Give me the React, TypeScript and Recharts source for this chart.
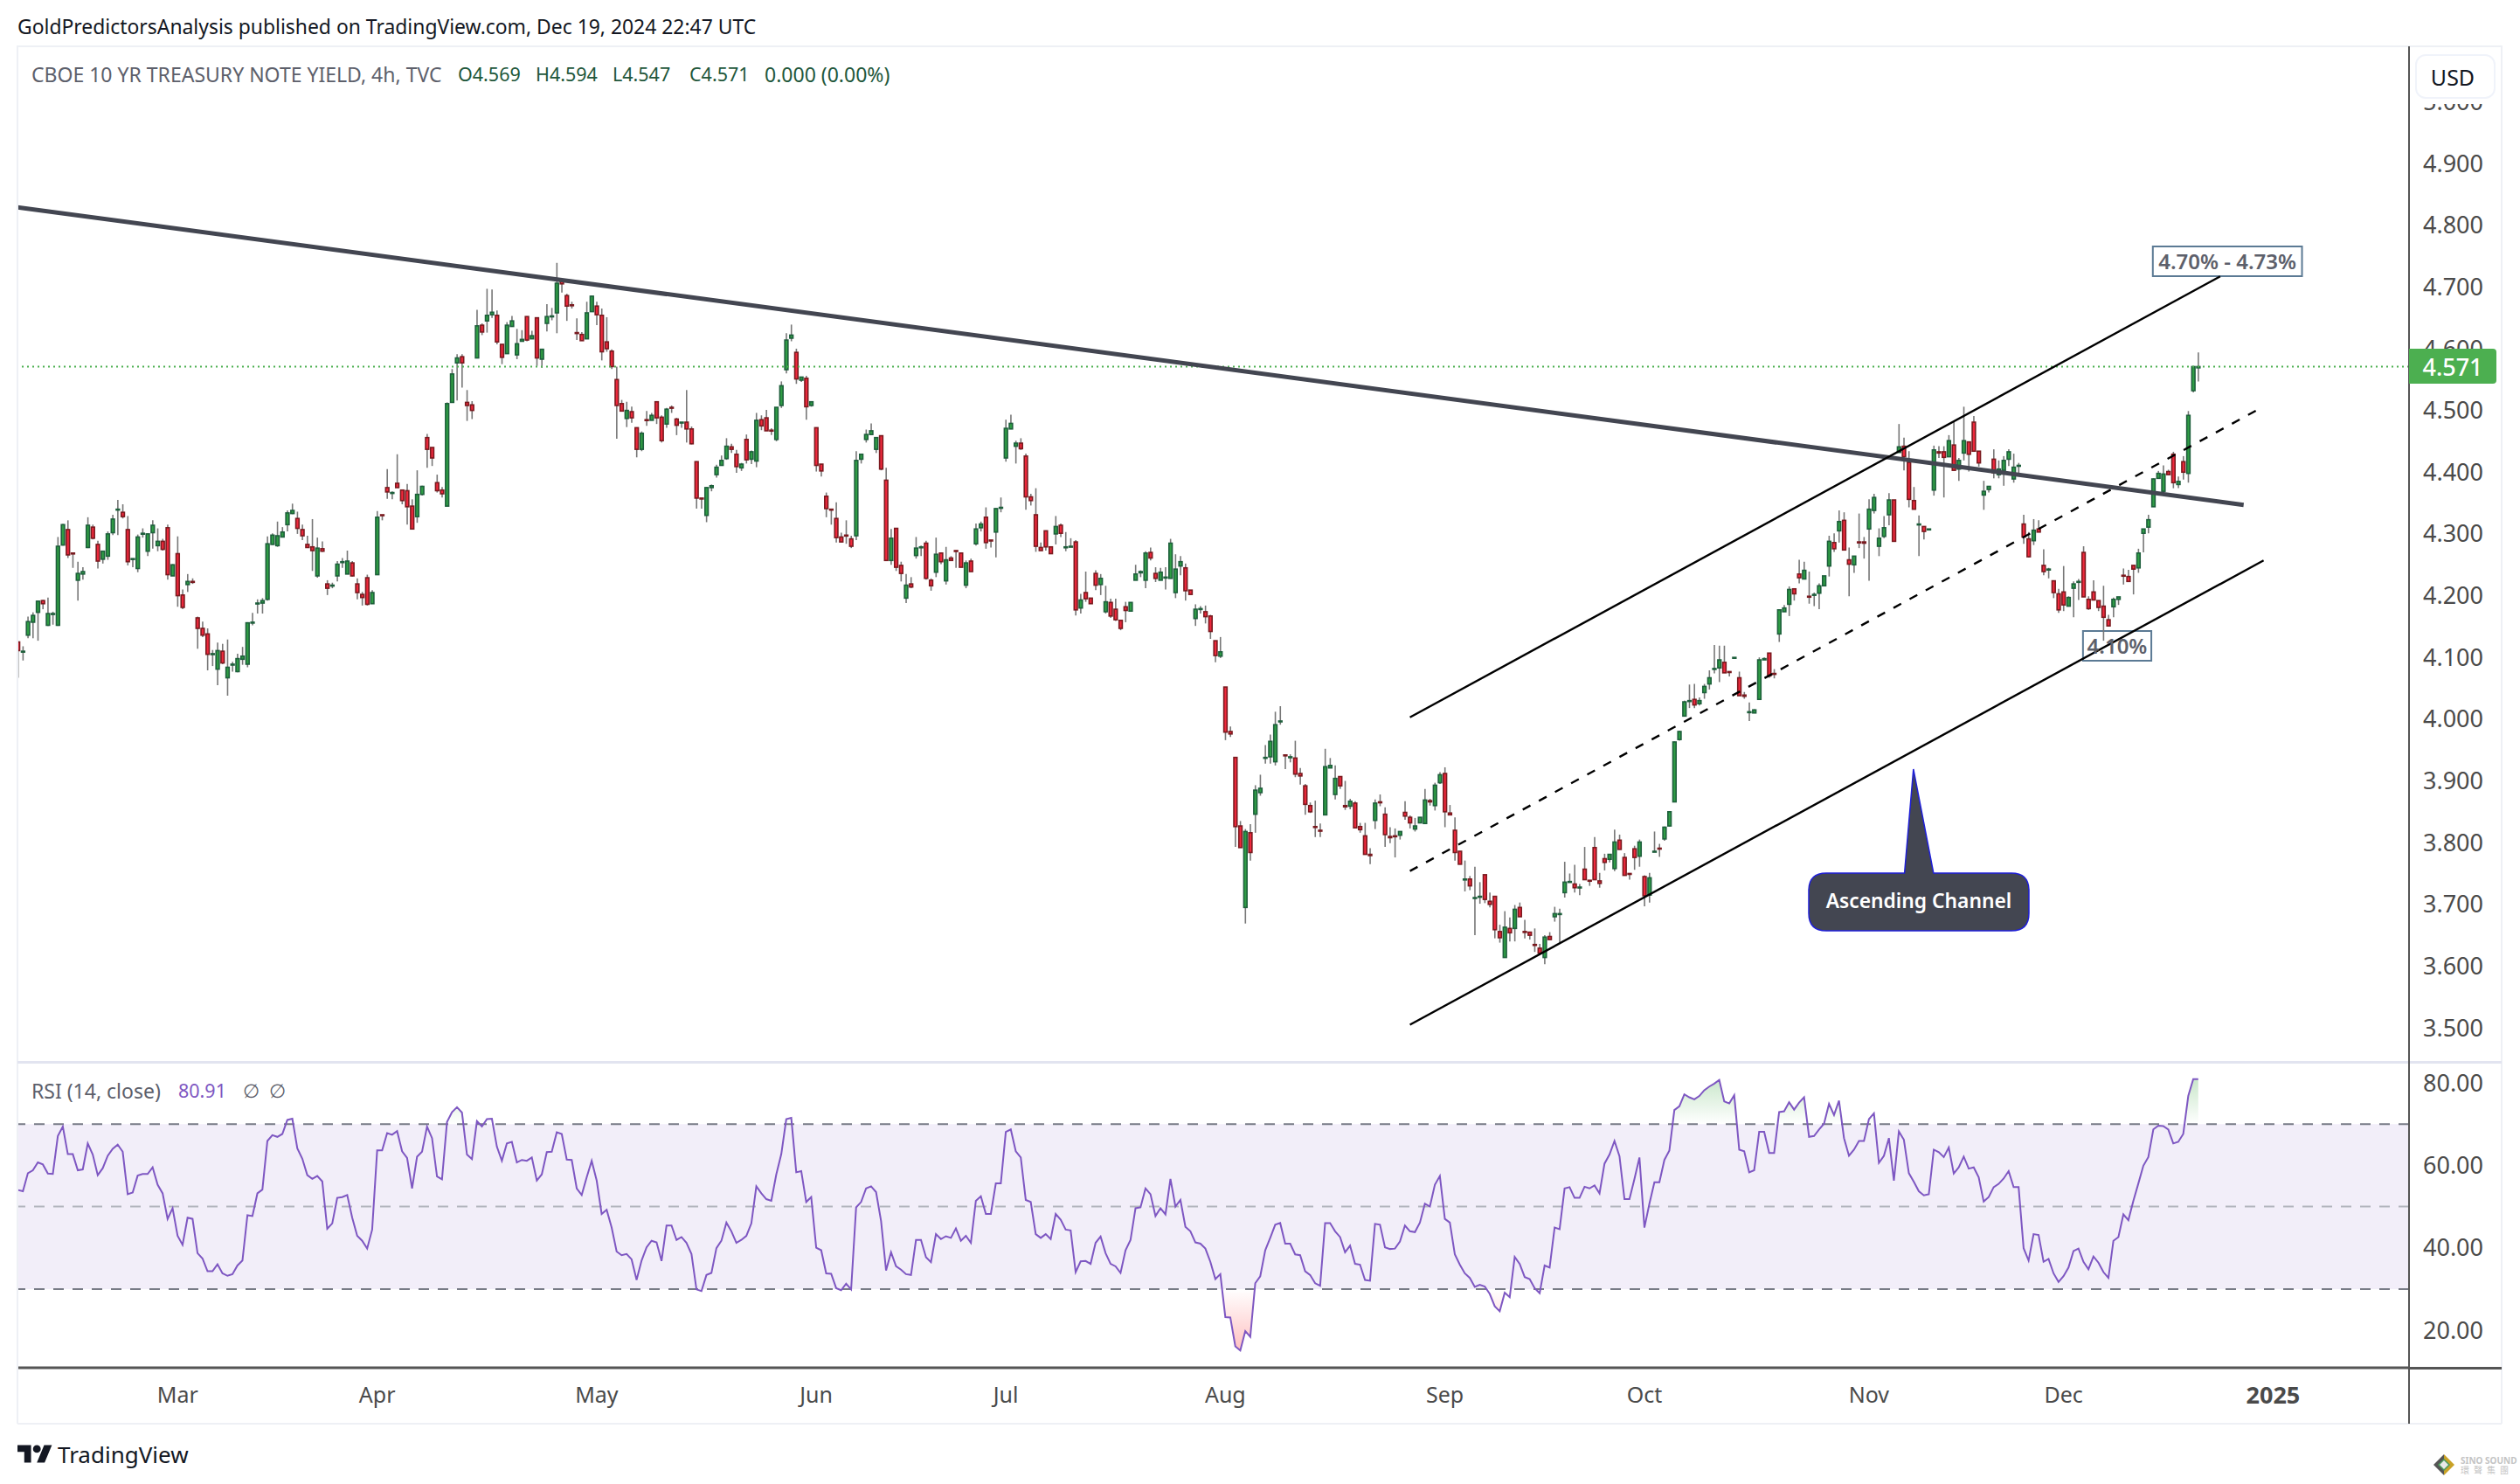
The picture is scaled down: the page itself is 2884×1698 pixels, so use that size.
import React from "react";
import { ComposedChart, Bar, Line, Area, XAxis, YAxis, ReferenceLine, ReferenceArea } from "recharts";

type Row = [number, number, number, number]; // open, close, high, low

const candlesFeb: Row[] = [
[4.125,4.111,4.126,4.067],[4.109,4.110,4.118,4.095],[4.136,4.158,4.166,4.131],[4.157,4.168,4.173,4.131],[4.173,4.191,4.192,4.127],[4.192,4.187,4.193,4.178],[4.152,4.171,4.197,4.151],[4.170,4.171,4.174,4.153],
[4.152,4.280,4.295,4.151],[4.282,4.315,4.316,4.281],[4.307,4.266,4.322,4.261],[4.269,4.268,4.269,4.245],[4.225,4.236,4.255,4.192],[4.235,4.239,4.246,4.226],[4.278,4.314,4.327,4.277],[4.311,4.293,4.315,4.291],
[4.283,4.256,4.289,4.244],[4.259,4.272,4.273,4.252],[4.264,4.300,4.304,4.258],[4.302,4.324,4.331,4.298],[4.339,4.340,4.355,4.298],[4.335,4.328,4.348,4.325],[4.307,4.255,4.329,4.249],[4.259,4.260,4.260,4.246],
[4.244,4.295,4.299,4.238],[4.300,4.301,4.309,4.294],[4.272,4.300,4.301,4.264],[4.302,4.314,4.322,4.276],[4.281,4.288,4.309,4.272],[4.288,4.275,4.292,4.273],[4.310,4.234,4.315,4.226],[4.232,4.250,4.251,4.232]];
const candlesMar: Row[] = [
[4.268,4.200,4.296,4.182],[4.201,4.181,4.210,4.178],[4.218,4.223,4.235,4.206],[4.223,4.222,4.228,4.219],[4.164,4.147,4.166,4.114],[4.147,4.136,4.158,4.133],[4.138,4.105,4.147,4.079],[4.105,4.106,4.112,4.086],
[4.081,4.111,4.124,4.055],[4.110,4.091,4.122,4.089],[4.067,4.084,4.129,4.038],[4.088,4.089,4.093,4.077],[4.077,4.098,4.106,4.076],[4.097,4.102,4.117,4.088],[4.089,4.156,4.157,4.084],[4.156,4.157,4.172,4.152],
[4.187,4.188,4.194,4.171],[4.188,4.192,4.196,4.171],[4.194,4.284,4.296,4.192],[4.283,4.298,4.301,4.282],[4.281,4.297,4.320,4.279],[4.295,4.303,4.311,4.295],[4.315,4.334,4.338,4.304],[4.333,4.338,4.349,4.332],
[4.325,4.309,4.336,4.300],[4.307,4.297,4.315,4.290],[4.283,4.278,4.297,4.278],[4.279,4.273,4.324,4.240],[4.232,4.277,4.294,4.229],[4.276,4.272,4.288,4.271],[4.219,4.212,4.225,4.201],[4.216,4.217,4.221,4.212],
[4.232,4.251,4.256,4.223],[4.254,4.255,4.261,4.245],[4.235,4.256,4.273,4.235],[4.253,4.232,4.256,4.231],[4.219,4.205,4.228,4.194],[4.202,4.197,4.206,4.184],[4.229,4.186,4.234,4.184],[4.187,4.205,4.209,4.187]];
const candlesApr: Row[] = [
[4.234,4.327,4.337,4.234],[4.331,4.330,4.331,4.322],[4.375,4.368,4.405,4.357],[4.366,4.367,4.369,4.356],[4.382,4.375,4.429,4.375],[4.371,4.354,4.372,4.348],[4.370,4.344,4.381,4.315],[4.345,4.308,4.356,4.308],
[4.328,4.364,4.403,4.318],[4.364,4.377,4.378,4.362],[4.456,4.437,4.462,4.407],[4.440,4.423,4.440,4.410],[4.383,4.370,4.396,4.367],[4.371,4.365,4.376,4.359],[4.345,4.511,4.513,4.345],[4.513,4.559,4.567,4.513],
[4.577,4.585,4.591,4.516],[4.587,4.577,4.591,4.537],[4.513,4.508,4.533,4.483],[4.509,4.500,4.515,4.486],[4.585,4.637,4.663,4.585],[4.638,4.627,4.641,4.622],[4.645,4.654,4.697,4.626],[4.655,4.659,4.696,4.650],
[4.654,4.611,4.662,4.607],[4.607,4.586,4.607,4.575],[4.592,4.638,4.643,4.592],[4.636,4.645,4.653,4.636],[4.590,4.608,4.632,4.583],[4.612,4.615,4.630,4.612],[4.652,4.614,4.652,4.612],[4.616,4.621,4.629,4.616],
[4.650,4.585,4.650,4.572],[4.583,4.599,4.600,4.569],[4.641,4.652,4.672,4.628],[4.652,4.653,4.666,4.646],[4.658,4.706,4.739,4.625],[4.709,4.705,4.709,4.691],[4.686,4.669,4.689,4.645],[4.671,4.670,4.676,4.665],
[4.626,4.625,4.649,4.614],[4.623,4.613,4.627,4.613],[4.616,4.658,4.676,4.616],[4.660,4.685,4.686,4.660]];
const candlesMay: Row[] = [
[4.669,4.655,4.676,4.638],[4.654,4.595,4.665,4.581],[4.611,4.600,4.651,4.595],[4.596,4.571,4.599,4.567],[4.550,4.508,4.571,4.454],[4.511,4.499,4.517,4.499],[4.487,4.500,4.514,4.473],[4.498,4.488,4.506,4.480],
[4.472,4.437,4.472,4.424],[4.437,4.463,4.466,4.434],[4.485,4.484,4.499,4.475],[4.484,4.492,4.496,4.484],[4.514,4.488,4.514,4.478],[4.489,4.451,4.492,4.448],[4.478,4.502,4.504,4.472],[4.505,4.504,4.508,4.496],
[4.486,4.476,4.488,4.460],[4.480,4.481,4.481,4.472],[4.481,4.470,4.533,4.448],[4.470,4.446,4.474,4.445],[4.417,4.358,4.417,4.341],[4.358,4.357,4.358,4.341],[4.330,4.375,4.376,4.319],[4.375,4.378,4.380,4.369],
[4.396,4.408,4.412,4.391],[4.411,4.419,4.427,4.411],[4.422,4.442,4.455,4.420],[4.441,4.437,4.446,4.431],[4.429,4.409,4.436,4.399],[4.407,4.413,4.415,4.402],[4.453,4.420,4.461,4.414],[4.421,4.433,4.435,4.413],
[4.418,4.484,4.496,4.408],[4.485,4.475,4.492,4.468],[4.488,4.467,4.501,4.467],[4.468,4.467,4.471,4.460],[4.453,4.505,4.505,4.450],[4.508,4.540,4.547,4.504],[4.566,4.614,4.625,4.560],[4.617,4.622,4.639,4.612],
[4.594,4.551,4.600,4.543],[4.549,4.554,4.554,4.546],[4.552,4.506,4.556,4.485],[4.508,4.514,4.514,4.506]];
const candlesJun: Row[] = [
[4.472,4.411,4.472,4.401],[4.413,4.402,4.413,4.393],[4.361,4.341,4.367,4.327],[4.340,4.339,4.340,4.315],[4.325,4.294,4.351,4.286],[4.295,4.287,4.302,4.287],[4.298,4.297,4.322,4.284],[4.292,4.280,4.297,4.277],
[4.297,4.419,4.434,4.290],[4.421,4.429,4.429,4.414],[4.453,4.461,4.469,4.448],[4.461,4.467,4.479,4.461],[4.437,4.456,4.456,4.431],[4.459,4.405,4.459,4.403],[4.387,4.257,4.407,4.257],[4.257,4.293,4.308,4.250],
[4.309,4.246,4.309,4.240],[4.249,4.236,4.255,4.223],[4.196,4.217,4.235,4.188],[4.219,4.214,4.230,4.212],[4.265,4.277,4.295,4.260],[4.278,4.279,4.281,4.264],[4.285,4.228,4.289,4.226],[4.225,4.216,4.228,4.208],
[4.238,4.267,4.294,4.230],[4.269,4.255,4.269,4.251],[4.224,4.258,4.279,4.218],[4.261,4.257,4.264,4.257],[4.273,4.272,4.273,4.245],[4.269,4.246,4.269,4.246],[4.217,4.253,4.257,4.212],[4.256,4.239,4.260,4.239],
[4.284,4.308,4.317,4.281],[4.310,4.316,4.320,4.304],[4.327,4.286,4.343,4.276],[4.290,4.289,4.290,4.278],[4.303,4.341,4.342,4.262],[4.342,4.343,4.359,4.335]];
const candlesJul: Row[] = [
[4.423,4.471,4.485,4.417],[4.470,4.479,4.493,4.470],[4.442,4.447,4.451,4.414],[4.447,4.438,4.455,4.436],[4.426,4.360,4.430,4.339],[4.360,4.354,4.365,4.346],[4.331,4.280,4.374,4.271],[4.278,4.273,4.286,4.273],
[4.305,4.279,4.305,4.273],[4.279,4.268,4.279,4.268],[4.300,4.312,4.329,4.283],[4.314,4.301,4.317,4.295],[4.278,4.279,4.303,4.272],[4.279,4.280,4.293,4.279],[4.287,4.177,4.290,4.168],[4.180,4.193,4.203,4.171],
[4.205,4.195,4.239,4.190],[4.196,4.187,4.196,4.187],[4.236,4.217,4.241,4.209],[4.218,4.228,4.235,4.201],[4.174,4.190,4.216,4.171],[4.189,4.167,4.195,4.164],[4.178,4.161,4.195,4.159],[4.160,4.147,4.160,4.144],
[4.182,4.176,4.190,4.157],[4.175,4.189,4.189,4.175],[4.225,4.235,4.250,4.225],[4.237,4.239,4.241,4.230],[4.225,4.269,4.272,4.212],[4.270,4.261,4.278,4.257],[4.236,4.228,4.246,4.222],[4.225,4.238,4.245,4.225],
[4.229,4.230,4.246,4.210],[4.228,4.285,4.292,4.228],[4.205,4.243,4.267,4.196],[4.248,4.255,4.264,4.233],[4.245,4.208,4.252,4.192],[4.209,4.202,4.209,4.202],[4.163,4.178,4.186,4.151],[4.178,4.179,4.183,4.171],
[4.174,4.166,4.184,4.155],[4.167,4.142,4.169,4.130],[4.127,4.103,4.127,4.092],[4.102,4.109,4.133,4.099]];
const candlesAug: Row[] = [
[4.052,3.979,4.052,3.966],[3.980,3.976,3.988,3.971],[3.938,3.826,3.938,3.793],[3.827,3.792,3.835,3.792],[3.695,3.818,3.822,3.669],[3.816,3.784,3.830,3.771],[3.846,3.885,3.893,3.816],[3.881,3.888,3.910,3.876],
[3.937,3.938,3.958,3.928],[3.939,3.964,3.975,3.928],[3.931,3.991,4.012,3.925],[3.996,3.997,4.021,3.991],[3.942,3.941,3.942,3.919],[3.938,3.939,3.943,3.930],[3.937,3.911,3.965,3.906],[3.912,3.908,3.921,3.894],
[3.892,3.862,3.895,3.845],[3.860,3.850,3.865,3.848],[3.826,3.825,3.868,3.809],[3.820,3.819,3.831,3.809],[3.845,3.923,3.952,3.845],[3.921,3.925,3.937,3.921],[3.878,3.904,3.925,3.870],[3.907,3.892,3.907,3.887],
[3.860,3.858,3.900,3.853],[3.859,3.867,3.871,3.854],[3.864,3.824,3.867,3.824],[3.826,3.821,3.832,3.816],[3.811,3.781,3.832,3.781],[3.781,3.779,3.791,3.765],[3.836,3.864,3.870,3.822],[3.866,3.865,3.878,3.859],
[3.846,3.813,3.857,3.793],[3.810,3.808,3.825,3.799],[3.811,3.810,3.823,3.776],[3.812,3.818,3.818,3.805],[3.849,3.843,3.867,3.837],[3.841,3.832,3.844,3.823],[3.822,3.827,3.840,3.818],[3.832,3.841,3.841,3.832],
[3.831,3.869,3.887,3.831],[3.868,3.866,3.871,3.860],[3.860,3.893,3.897,3.852],[3.897,3.910,3.914,3.895]];
const candlesSep: Row[] = [
[3.912,3.850,3.922,3.825],[3.848,3.845,3.861,3.845],[3.820,3.784,3.841,3.771],[3.786,3.765,3.786,3.765],[3.740,3.741,3.771,3.721],[3.741,3.730,3.746,3.723],[3.710,3.711,3.761,3.650],[3.712,3.713,3.736,3.701],
[3.748,3.708,3.748,3.702],[3.705,3.700,3.719,3.695],[3.713,3.659,3.713,3.645],[3.656,3.646,3.667,3.638],[3.614,3.663,3.689,3.614],[3.661,3.654,3.679,3.640],[3.661,3.692,3.699,3.640],[3.695,3.680,3.703,3.680],
[3.656,3.655,3.675,3.645],[3.655,3.650,3.655,3.643],[3.635,3.634,3.661,3.623],[3.629,3.621,3.636,3.619],[3.614,3.647,3.650,3.603],[3.648,3.643,3.655,3.643],[3.680,3.685,3.696,3.672],[3.684,3.685,3.693,3.638],
[3.719,3.736,3.769,3.711],[3.736,3.737,3.750,3.736],[3.733,3.727,3.764,3.719],[3.727,3.728,3.733,3.715],[3.757,3.740,3.793,3.740],[3.739,3.738,3.739,3.730],[3.792,3.740,3.809,3.740],[3.738,3.734,3.751,3.727],
[3.774,3.768,3.782,3.755],[3.773,3.781,3.781,3.768],[3.758,3.801,3.821,3.754],[3.804,3.789,3.813,3.789],[3.776,3.747,3.783,3.747],[3.750,3.749,3.750,3.740],[3.790,3.776,3.795,3.756],[3.778,3.801,3.805,3.761]];
const candlesOct: Row[] = [
[3.745,3.714,3.747,3.697],[3.715,3.743,3.751,3.703],[3.785,3.786,3.818,3.785],[3.791,3.790,3.798,3.777],[3.806,3.825,3.826,3.803],[3.827,3.850,3.851,3.826],[3.866,3.963,3.964,3.866],[3.967,3.980,3.981,3.965],
[4.005,4.028,4.030,4.004],[4.029,4.030,4.056,4.018],[4.032,4.023,4.057,4.018],[4.025,4.030,4.035,4.022],[4.043,4.053,4.057,4.033],[4.057,4.067,4.079,4.048],[4.081,4.082,4.120,4.074],[4.083,4.096,4.119,4.060],
[4.092,4.075,4.119,4.075],[4.077,4.076,4.077,4.069],[4.099,4.100,4.100,4.099],[4.067,4.038,4.077,4.038],[4.039,4.037,4.044,4.033],[4.011,4.012,4.027,3.997],[4.010,4.015,4.016,4.010],[4.032,4.096,4.100,4.032],
[4.096,4.098,4.100,4.096],[4.107,4.070,4.107,4.067],[4.074,4.073,4.081,4.066],[4.138,4.177,4.178,4.125],[4.174,4.180,4.185,4.174],[4.186,4.210,4.215,4.167],[4.211,4.203,4.211,4.192],[4.235,4.229,4.258,4.220],
[4.227,4.241,4.255,4.227],[4.199,4.198,4.239,4.187],[4.201,4.202,4.205,4.183],[4.204,4.216,4.220,4.178],[4.216,4.232,4.232,4.216],[4.248,4.288,4.297,4.231],[4.286,4.276,4.301,4.271],[4.305,4.320,4.338,4.286],
[4.322,4.274,4.335,4.274],[4.258,4.251,4.278,4.199],[4.250,4.264,4.264,4.237],[4.287,4.286,4.333,4.277],[4.287,4.285,4.295,4.260]];
const candlesNov: Row[] = [
[4.308,4.340,4.356,4.224],[4.338,4.359,4.365,4.333],[4.280,4.293,4.309,4.264],[4.296,4.310,4.329,4.293],[4.331,4.355,4.366,4.314],[4.355,4.288,4.355,4.288],[4.432,4.441,4.478,4.432],[4.442,4.425,4.456,4.403],
[4.416,4.356,4.434,4.343],[4.354,4.340,4.376,4.340],[4.315,4.316,4.330,4.264],[4.312,4.304,4.312,4.291],[4.307,4.308,4.308,4.307],[4.371,4.436,4.443,4.362],[4.433,4.431,4.442,4.423],[4.433,4.424,4.442,4.359],
[4.425,4.451,4.460,4.425],[4.444,4.403,4.482,4.403],[4.405,4.419,4.423,4.386],[4.431,4.451,4.506,4.419],[4.449,4.429,4.449,4.401],[4.481,4.434,4.491,4.434],[4.434,4.415,4.434,4.409],[4.363,4.369,4.386,4.339],
[4.372,4.377,4.377,4.367],[4.421,4.399,4.437,4.390],[4.396,4.405,4.419,4.390],[4.403,4.419,4.426,4.378],[4.421,4.433,4.437,4.410],[4.389,4.408,4.430,4.383],[4.410,4.411,4.415,4.395],[4.316,4.295,4.331,4.284],
[4.292,4.263,4.303,4.262],[4.289,4.306,4.324,4.282],[4.308,4.303,4.322,4.303],[4.249,4.239,4.275,4.233],[4.242,4.243,4.245,4.228],[4.224,4.205,4.224,4.196],[4.203,4.177,4.211,4.172]];
const candlesDec: Row[] = [
[4.206,4.185,4.248,4.175],[4.183,4.197,4.199,4.183],[4.212,4.219,4.223,4.165],[4.222,4.223,4.227,4.193],[4.270,4.198,4.280,4.198],[4.194,4.179,4.199,4.177],[4.206,4.193,4.225,4.193],[4.192,4.181,4.192,4.175],
[4.183,4.165,4.216,4.127],[4.161,4.151,4.169,4.151],[4.182,4.194,4.197,4.165],[4.194,4.198,4.198,4.185],[4.233,4.232,4.244,4.218],[4.231,4.223,4.242,4.223],[4.249,4.243,4.249,4.202],[4.245,4.269,4.276,4.237],
[4.301,4.308,4.308,4.270],[4.311,4.323,4.331,4.301],[4.344,4.389,4.390,4.344],[4.390,4.398,4.402,4.390],[4.369,4.397,4.411,4.362],[4.401,4.396,4.404,4.396],[4.429,4.383,4.433,4.374],[4.380,4.385,4.393,4.374],
[4.417,4.400,4.426,4.388],[4.398,4.492,4.499,4.383],[4.532,4.571,4.571,4.529],[4.569,4.571,4.594,4.547]];

const rsiFeb = [54,53.7,58.1,58.8,60.7,60.2,58,57.9,67.1,69.4,62.7,62.7,58.8,59,65.3,62.6,57.6,59.3,62.3,64,65,63.3,53,53.4,57.5,57.9,57.9,59.5,55.3,53.2,47,49.6];
const rsiMar = [42.9,40.7,47.3,47,38.7,37.4,34.3,34.3,36,33.8,33.2,33.6,35.7,36.9,47.9,47.7,53.2,54.1,65.9,67.3,66.9,67.6,71,71.3,64.1,61.6,57.6,56.7,57.4,56.1,44.6,45.9,52.1,52.3,52.8,47.3,42.9,41.7,39.8,44.4];
const rsiApr = [63.6,63.6,67.8,67.4,68.3,63.4,61.8,54.4,62.1,63.3,69.4,66.6,57.3,56.6,70.5,72.9,74.1,72.8,62.6,61.5,70.7,69.4,71.2,71.3,64.5,61.1,65.3,65.7,60.7,61.3,61.1,61.9,56.3,57.8,63.2,63.3,68,67.6,61.4,61.3,54.4,52.8,57.1,61.1];
const rsiMay = [56.3,48.2,49.2,44.9,39.1,38.2,38.5,37.2,32.2,36.9,40.1,41.7,41.3,36.8,45.4,45.4,41.9,42.6,41.2,38.5,29.9,29.5,33.4,33.9,39.9,41.7,46.1,44,41.2,41.9,42.9,45.9,54.9,53.2,51.8,51.4,57.8,62.7,71.2,71.5,58.3,58.6,51.1,52.3];
const rsiJun = [40,39.4,33.8,33.7,30.2,29.7,31.3,29.9,49.8,51.1,54.4,54.9,53.5,46.5,34.5,38.9,35.5,34.7,33.6,33.4,41.9,41.9,37.7,36.5,43.3,42.1,42.8,42.4,44.7,41.7,42.9,41.2,51.4,52.5,48.2,48.2,55.6,55.6];
const rsiJul = [68.1,68.7,63.4,61.9,51.6,51.1,43.3,42.4,43.3,42.1,48.2,46.8,44.4,44.2,34.1,36.7,36.8,36.1,41.2,42.7,38.7,36.1,35.5,33.9,39.4,41.9,49.6,49.8,54.4,53,47.7,49.6,48.1,56.7,50,51.6,45.1,44,41.3,41,39.8,36.6,32.4,33.6];
const rsiAug = [23.2,23.1,16.1,15.1,19.8,18.4,31.4,33.1,39.4,42.4,45.6,46,41,41,38.4,38.2,34.3,33.4,31.4,30.8,46,46,44,42.6,38.9,40.5,36.1,35.9,32.2,32,45.8,45.6,40.1,39.7,39.8,41.5,45.4,44,43.8,46.1,50.7,50,55.3,57.4];
const rsiSep = [47,46.1,38.4,35.9,33.8,32.7,30.5,31,30.6,28.8,25.8,24.6,29.1,28,37.8,36.1,32.9,32.4,30.2,29,35.7,35.2,44.9,44.5,54.4,54.7,52.1,52.1,54.8,54.4,55.1,53.2,60.4,62.6,65.9,62.2,51.8,51.8,56.7,61.9];
const rsiOct = [44.9,50.7,55.9,55.9,61.3,63.6,73.4,74.3,77.2,76.5,76,76.8,78.2,79.1,79.8,80.7,75.5,75,77,63.8,63.4,58.3,58.8,68.1,68.1,63,63,72.9,73.1,75.3,73.5,75.2,76.5,66.9,67.1,68.7,70.1,74.9,72.2,75.7,66.6,62.3,63.8,65.9,65.9];
const rsiNov = [71.2,72.6,60.6,62.3,66.6,56.3,68.2,66.2,58.1,56,53.7,52.7,53,63.8,63.2,62,64.3,58,59.5,62.1,59.2,59.5,57.1,51.2,52.3,54.7,55.5,56.8,58.6,54.7,54.7,39.9,36.9,43.3,43.1,36.6,37.3,33.8,31.7];
const rsiDec = [33.1,35.2,39.2,39.8,36.6,34.8,37.9,36.4,34.1,32.7,41.7,42.6,48.1,46.7,51.4,55.6,59.9,62,68.7,69.6,69.5,68.7,65.3,65.7,67.6,76.8,80.9,80.91];

const priceTicks = [3.5,3.6,3.7,3.8,3.9,4.0,4.1,4.2,4.3,4.4,4.5,4.6,4.7,4.8,4.9,5.0];
const rsiTicks = [20,40,60,80];
const monthTicks = [32,72,116,160,198,242,286,326,371,410,452];
const monthLabels = ["Mar","Apr","May","Jun","Jul","Aug","Sep","Oct","Nov","Dec","2025"];

const resistance = [[-0.09,4.829],[446.1,4.347]];
const channelUpper = [[279,4.003],[441.4,4.717]];
const channelMiddle = [[279,3.754],[449.8,4.505]];
const channelLower = [[279,3.505],[450.1,4.257]];
const lastPrice = 4.571;

const FONT = '"Noto Sans", sans-serif';
const X_DOMAIN: [number, number] = [-0.09, 479.25];
const PRICE_DOMAIN: [number, number] = [3.4435, 5.0897];
const RSI_DOMAIN: [number, number] = [10.9, 84.87];

const allCandles = [...candlesFeb, ...candlesMar, ...candlesApr, ...candlesMay, ...candlesJun, ...candlesJul, ...candlesAug, ...candlesSep, ...candlesOct, ...candlesNov, ...candlesDec];
const allRsi = [...rsiFeb, ...rsiMar, ...rsiApr, ...rsiMay, ...rsiJun, ...rsiJul, ...rsiAug, ...rsiSep, ...rsiOct, ...rsiNov, ...rsiDec];

const priceData = allCandles.map((r, i) => ({ i, open: r[0], close: r[1], high: r[2], low: r[3], range: [r[3], r[2]] }));
const rsiData = allRsi.map((v, i) => ({
  i,
  rsi: v,
  over: v > 70 ? [70, v] : [70, 70],
  under: v < 30 ? [v, 30] : [30, 30],
}));

function Candle(props: any) {
  const { x, y, width, height, payload } = props;
  if (!payload) return null;
  const { open, close, high, low } = payload;
  const k = high > low ? height / (high - low) : 0;
  const up = close >= open;
  const top = y + (high - Math.max(open, close)) * k;
  const bottom = y + (high - Math.min(open, close)) * k;
  const cx = x + width / 2;
  const bodyW = 3.7;
  return (
    <g>
      <line x1={cx} x2={cx} y1={y} y2={y + height} stroke="#777777" strokeWidth={1.6} />
      <rect
        x={cx - bodyW / 2}
        y={top}
        width={bodyW}
        height={Math.max(bottom - top, 1)}
        fill={up ? "#2f9e44" : "#f0283c"}
        stroke={up ? "#1e5f3c" : "#7a1a1f"}
        strokeWidth={1.6}
      />
    </g>
  );
}

function Txt({ x, y, size, color, weight, children }: any) {
  return (
    <div style={{ position: "absolute", left: x, top: y, transform: "translateY(-50%)", fontSize: size, color, fontWeight: weight, fontFamily: FONT, whiteSpace: "nowrap", lineHeight: 1 }}>
      {children}
    </div>
  );
}

function Box({ x, y, w, h, bg }: any) {
  return <div style={{ position: "absolute", left: x, top: y, width: w, height: h, background: bg }} />;
}

const seg = (s: number[][]) => [{ x: s[0][0], y: s[0][1] }, { x: s[1][0], y: s[1][1] }];

function MonthTick(props: any) {
  const { x, y, payload } = props;
  const label = monthLabels[monthTicks.indexOf(payload.value)];
  const isYear = label === "2025";
  return (
    <text x={x} y={y + 22} textAnchor="middle" dominantBaseline="central" fontSize={isYear ? 27 : 25} fontFamily={FONT} fontWeight={isYear ? 700 : 400} fill="#4a4a4a">
      {label}
    </text>
  );
}

export default function App() {
  return (
    <div style={{ position: "absolute", left: 0, top: 0, width: 2884, height: 1698, background: "#fff", overflow: "hidden" }}>
      <Txt x={20} y={31} size={22.9} color="#131722">GoldPredictorsAnalysis published on TradingView.com, Dec 19, 2024 22:47 UTC</Txt>

      <div style={{ position: "absolute", left: 20, top: 53 }}>
        <ComposedChart width={2843} height={1163} data={priceData} margin={{ top: 0, right: 0, bottom: 0, left: 0 }} style={{ fontFamily: FONT }}>
          <XAxis dataKey="i" type="number" domain={X_DOMAIN} hide allowDataOverflow />
          <YAxis orientation="right" width={106} domain={PRICE_DOMAIN} ticks={priceTicks} allowDataOverflow interval={0}
            tickFormatter={(v: number) => v.toFixed(3)} tickLine={false} tickMargin={10}
            tick={{ fontSize: 27, fill: "#4a4a4a" }} axisLine={{ stroke: "#555555", strokeWidth: 2 }} />
          <ReferenceLine y={lastPrice} stroke="#4caf50" strokeWidth={2} strokeDasharray="2 4" />
          <ReferenceLine segment={seg(resistance)} stroke="#434651" strokeWidth={5} />
          <ReferenceLine segment={seg(channelUpper)} stroke="#000" strokeWidth={2.4} />
          <ReferenceLine segment={seg(channelMiddle)} stroke="#000" strokeWidth={2.4} strokeDasharray="10 11" />
          <ReferenceLine segment={seg(channelLower)} stroke="#000" strokeWidth={2.4} />
          <ReferenceArea x1={427.9} x2={457.8} y1={4.7174} y2={4.7655} fill="#fff" fillOpacity={1} stroke="#5b7a94" strokeWidth={2}
            label={{ value: "4.70% - 4.73%", position: "center", fill: "#5d606b", fontSize: 24, fontWeight: 600 }} />
          <ReferenceArea x1={413.9} x2={427.6} y1={4.0946} y2={4.1427} fill="#fff" fillOpacity={1} stroke="#5b7a94" strokeWidth={2}
            label={{ value: "4.10%", position: "center", fill: "#5d606b", fontSize: 24, fontWeight: 600 }} />
          <Bar dataKey="range" barSize={4} shape={<Candle />} isAnimationActive={false} />
        </ComposedChart>
      </div>

      <div style={{ position: "absolute", left: 20, top: 1216 }}>
        <ComposedChart width={2843} height={412} data={rsiData} margin={{ top: 0, right: 0, bottom: 0, left: 0 }} style={{ fontFamily: FONT }}>
          <defs>
            <linearGradient id="obFill" x1="0" y1="0" x2="0" y2="1">
              <stop offset="0" stopColor="#4caf50" stopOpacity={0.5} />
              <stop offset="1" stopColor="#4caf50" stopOpacity={0} />
            </linearGradient>
            <linearGradient id="osFill" x1="0" y1="0" x2="0" y2="1">
              <stop offset="0" stopColor="#ff5252" stopOpacity={0} />
              <stop offset="1" stopColor="#ff5252" stopOpacity={0.6} />
            </linearGradient>
          </defs>
          <XAxis dataKey="i" type="number" domain={X_DOMAIN} ticks={monthTicks} interval={0} height={63} allowDataOverflow
            tick={<MonthTick />} tickLine={false} axisLine={{ stroke: "#555555", strokeWidth: 3 }} />
          <YAxis orientation="right" width={106} domain={RSI_DOMAIN} ticks={rsiTicks} allowDataOverflow interval={0}
            tickFormatter={(v: number) => v.toFixed(2)} tickLine={false} tickMargin={10}
            tick={{ fontSize: 27, fill: "#4a4a4a" }} axisLine={{ stroke: "#555555", strokeWidth: 2 }} />
          <ReferenceArea y1={30} y2={70} fill="#7e57c2" fillOpacity={0.1} stroke="none" />
          <ReferenceLine y={70} stroke="#787b86" strokeWidth={2} strokeDasharray="12 10" />
          <ReferenceLine y={50} stroke="#b2b5be" strokeWidth={2} strokeDasharray="12 10" />
          <ReferenceLine y={30} stroke="#787b86" strokeWidth={2} strokeDasharray="12 10" />
          <Area dataKey="over" stroke="none" fill="url(#obFill)" isAnimationActive={false} />
          <Area dataKey="under" stroke="none" fill="url(#osFill)" isAnimationActive={false} />
          <Line dataKey="rsi" stroke="#7e57c2" strokeWidth={2} dot={false} isAnimationActive={false} />
        </ComposedChart>
      </div>

      {/* frame */}
      <Box x={20} y={52} w={2843} h={2} bg="#eef0f5" />
      <Box x={19} y={52} w={2} h={1577} bg="#eef0f5" />
      <Box x={2862} y={52} w={2} h={1577} bg="#eef0f5" />
      <Box x={20} y={1628} w={2843} h={2} bg="#eef0f5" />
      <Box x={20} y={1214} w={2843} h={3} bg="#e2e4f0" />
      <Box x={2756} y={53} w={2} h={1576} bg="#555555" />
      <Box x={2757} y={1564} w={106} h={3} bg="#555555" />

      {/* header legend */}
      <Txt x={36} y={85} size={23} color="#5d606b">CBOE 10 YR TREASURY NOTE YIELD, 4h, TVC</Txt>
      <Txt x={524} y={85} size={21.5} color="#22573b">O4.569</Txt>
      <Txt x={613} y={85} size={21.5} color="#22573b">H4.594</Txt>
      <Txt x={701} y={85} size={21.5} color="#22573b">L4.547</Txt>
      <Txt x={789} y={85} size={21.5} color="#22573b">C4.571</Txt>
      <Txt x={875} y={85} size={23} color="#22573b">0.000 (0.00%)</Txt>

      {/* RSI legend */}
      <Txt x={36} y={1248} size={23} color="#5d606b">RSI (14, close)</Txt>
      <Txt x={204} y={1248} size={21.5} color="#7e57c2">80.91</Txt>
      <Txt x={278} y={1248} size={21.5} color="#5d606b">∅</Txt>
      <Txt x={308} y={1248} size={21.5} color="#5d606b">∅</Txt>

      {/* price scale button & last price */}
      <Box x={2759} y={54} w={102} h={65} bg="#fff" />
      <div style={{ position: "absolute", left: 2764, top: 62, width: 92, height: 51, boxSizing: "border-box", border: "2px solid #f0f3fa", borderRadius: 12, background: "#fff", display: "flex", alignItems: "center", justifyContent: "center", fontFamily: FONT, fontSize: 25, color: "#131722", paddingRight: 6 }}>USD</div>
      <div style={{ position: "absolute", left: 2757, top: 399, width: 100, height: 40, background: "#4caf50", borderRadius: "0 4px 4px 0", display: "flex", alignItems: "center", justifyContent: "center", fontFamily: FONT, fontSize: 27, fontWeight: 500, color: "#fff" }}>4.571</div>

      {/* callout */}
      <svg style={{ position: "absolute", left: 0, top: 0 }} width={2884} height={1698}>
        <path d="M2090 999 L2179.6 999 L2189.8 880 L2212.8 999 L2302 999 Q2322 999 2322 1019 L2322 1045 Q2322 1065 2302 1065 L2090 1065 Q2070 1065 2070 1045 L2070 1019 Q2070 999 2090 999 Z" fill="#434651" stroke="#1f1fd8" strokeWidth={1.5} />
        <text x={2196} y={1030} textAnchor="middle" dominantBaseline="central" fontFamily={FONT} fontSize={22.8} fontWeight={600} fill="#fff">Ascending Channel</text>
        <g transform="translate(20 1649) scale(1.11)">
          <path d="M14 22H7V11H0V4h14v18zM28 22h-8l7.5-18h8L28 22z" fill="#131722" />
          <circle cx={20} cy={8} r={4} fill="#131722" />
        </g>
        <text x={66} y={1664} dominantBaseline="central" fontFamily={FONT} fontSize={26} fill="#131722">TradingView</text>
        <g transform="translate(2797 1676)">
          <path d="M0 -12 L12 0 L0 12 Z" fill="#c9a227" />
          <path d="M0 -12 L-12 0 L0 12 Z" fill="#555" />
          <path d="M0 -6 L6 0 L0 6 L-6 0 Z" fill="#e8e8e8" stroke="#4b9a5a" strokeWidth={1.5} />
        </g>
        <text x={2816} y={1675} fontFamily={FONT} fontSize={10} fontWeight={700} fill="#c4c4c4">SINO SOUND</text>
        <text x={2816} y={1686} fontFamily='"Noto Sans CJK TC"' fontSize={10} letterSpacing={5} fill="#c4c4c4">環聲集團</text>
      </svg>
    </div>
  );
}
